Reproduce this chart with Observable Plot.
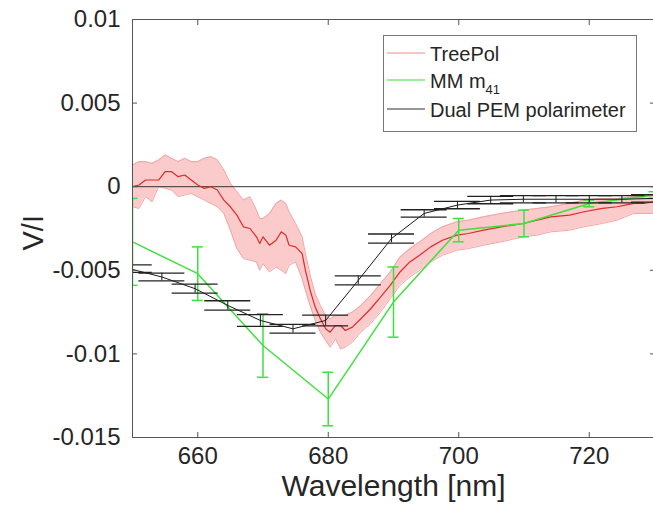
<!DOCTYPE html>
<html><head><meta charset="utf-8">
<script src="https://cdn.jsdelivr.net/npm/d3@7"></script>
<script src="https://cdn.jsdelivr.net/npm/@observablehq/plot@0.6"></script>
<style>html,body{margin:0;padding:0;background:#fff;} svg{display:block}</style>
</head><body><div id="chart"></div>
<script>
// TreePol (mean with uncertainty band)
const treeWl   = [650,651,652,653,654,655,656,657,658,659,660,661,662,663,664,665,666,667,668,669,669.5,670,671,672,672.8,673.5,674,675,676,676.5,677.3,678,678.8,679.6,680.3,681.1,681.9,682.6,683.7,685,686.5,688,689.5,691,692.5,694,695.7,697.5,699.7,701.5,703.8,706.5,709.9,712,714.1,717,719.2,722,724.3,726.8,728.4,730];
const treeMean = [0.0000,0.0001,0.0004,0.0004,0.0004,0.0009,0.0009,0.0006,0.0007,0.0004,0.0001,-0.0001,0.0000,-0.0002,-0.0008,-0.0012,-0.0017,-0.0024,-0.0025,-0.0030,-0.0034,-0.0030,-0.0035,-0.0032,-0.0027,-0.0029,-0.0035,-0.0036,-0.0040,-0.0050,-0.0063,-0.0072,-0.0079,-0.0085,-0.0087,-0.0083,-0.0083,-0.0086,-0.0084,-0.0079,-0.0073,-0.0066,-0.0059,-0.0051,-0.0045,-0.0041,-0.0036,-0.0032,-0.0029,-0.0028,-0.0026,-0.0024,-0.0022,-0.0020,-0.0018,-0.0017,-0.0015,-0.0013,-0.0012,-0.0010,-0.0010,-0.0009];
const treeLow  = [-0.0012,-0.0013,-0.0006,-0.0009,0.0000,-0.0001,-0.0002,-0.0006,-0.0005,-0.0004,-0.0006,-0.0008,-0.0010,-0.0012,-0.0016,-0.0026,-0.0037,-0.0043,-0.0044,-0.0045,-0.0050,-0.0046,-0.0051,-0.0048,-0.0050,-0.0052,-0.0047,-0.0045,-0.0055,-0.0062,-0.0072,-0.0080,-0.0087,-0.0092,-0.0096,-0.0091,-0.0097,-0.0096,-0.0093,-0.0087,-0.0082,-0.0075,-0.0067,-0.0059,-0.0054,-0.0050,-0.0045,-0.0041,-0.0038,-0.0037,-0.0035,-0.0033,-0.0030,-0.0029,-0.0027,-0.0026,-0.0024,-0.0022,-0.0020,-0.0016,-0.0016,-0.0016];
const treeHigh = [0.0013,0.0015,0.0015,0.0014,0.0016,0.0019,0.0017,0.0015,0.0017,0.0015,0.0015,0.0017,0.0018,0.0016,0.0010,0.0002,-0.0003,-0.0008,-0.0006,-0.0014,-0.0019,-0.0019,-0.0016,-0.0010,-0.0008,-0.0010,-0.0015,-0.0022,-0.0030,-0.0040,-0.0054,-0.0064,-0.0071,-0.0077,-0.0079,-0.0077,-0.0077,-0.0077,-0.0075,-0.0071,-0.0065,-0.0058,-0.0051,-0.0042,-0.0037,-0.0033,-0.0028,-0.0024,-0.0021,-0.0020,-0.0018,-0.0016,-0.0014,-0.0013,-0.0012,-0.0010,-0.0008,-0.0007,-0.0007,-0.0006,-0.0005,-0.0005];

// MM m41
const mmWl  = [650,660,670,680,690,700,710,720,730];
const mmVal = [-0.0033,-0.0052,-0.0095,-0.0127,-0.0069,-0.0026,-0.0022,-0.0010,-0.0005];
const mmErr = [0.0026,0.0016,0.0019,0.0016,0.0021,0.0007,0.0008,0.0002,0.0002];

// Dual PEM polarimeter
const pemWl  = [649.5,654.5,659.6,664.6,669.6,674.6,679.6,684.6,689.7,694.7,699.8,704.9,709.9,714.9,720.0,725.0,730.0];
const pemVal = [-0.0049,-0.0054,-0.0061,-0.0071,-0.0080,-0.0085,-0.0080,-0.0056,-0.0031,-0.0016,-0.0011,-0.0008,-0.00075,-0.00075,-0.00075,-0.00075,-0.0007];
const pemErr = [0.00022,0.00023,0.00027,0.00028,0.00035,0.00026,0.00032,0.00027,0.00027,0.00022,0.00022,0.00022,0.00022,0.00022,0.00022,0.00022,0.00022];

const xTicks = [660,680,700,720];
const yTicks = [-0.015,-0.01,-0.005,0,0.005,0.01];
const yTickLabels = ["-0.015","-0.01","-0.005","0","0.005","0.01"];
const seriesNames = ["TreePol","MM m","Dual PEM polarimeter"];
const mmSub = "41";
const xLabel = "Wavelength [nm]";
const yLabel = "V/I";

const tree = treeWl.map((x,i)=>({x, m:treeMean[i], lo:treeLow[i], hi:treeHigh[i]}));
const mm = mmWl.map((x,i)=>({x, v:mmVal[i], e:mmErr[i]}));
const pem = pemWl.map((x,i)=>({x, v:pemVal[i], e:pemErr[i]}));

const font = "'Liberation Sans', Arial, Helvetica, sans-serif";
const red = "#e02a2a", bandFill = "#fbcaca", bandEdge = "#f4a3a3";
const green = "#3fe03f", black = "#1a1a1a", axisCol = "#555", textCol = "#262626";

const plot = Plot.plot({
  width: 653, height: 520,
  marginLeft: 132, marginRight: -1, marginTop: 19, marginBottom: 83,
  style: {fontFamily: font, background: "#fff", overflow: "visible"},
  x: {domain: [650, 730]},
  y: {domain: [-0.015, 0.01]},
  marks: [
    Plot.areaY(tree, {x: "x", y1: "lo", y2: "hi", fill: bandFill, clip: true}),
    Plot.line(tree, {x: "x", y: "lo", stroke: bandEdge, strokeWidth: 1, clip: true}),
    Plot.line(tree, {x: "x", y: "hi", stroke: bandEdge, strokeWidth: 1, clip: true}),
    Plot.ruleY([0], {stroke: "#333", strokeWidth: 1}),
    Plot.line(tree, {x: "x", y: "m", stroke: red, strokeWidth: 1.2, clip: true}),
    // MM m41
    Plot.line(mm, {x: "x", y: "v", stroke: green, strokeWidth: 1.5, clip: true}),
    Plot.ruleX(mm, {x: "x", y1: d => d.v - d.e, y2: d => d.v + d.e, stroke: green, strokeWidth: 1.5, clip: true}),
    Plot.ruleY(mm, {y: d => d.v - d.e, x1: "x", x2: "x", insetLeft: -5.5, insetRight: -5.5, stroke: green, strokeWidth: 1.5, clip: true}),
    Plot.ruleY(mm, {y: d => d.v + d.e, x1: "x", x2: "x", insetLeft: -5.5, insetRight: -5.5, stroke: green, strokeWidth: 1.5, clip: true}),
    // Dual PEM
    Plot.line(pem, {x: "x", y: "v", stroke: black, strokeWidth: 1, clip: true}),
    Plot.ruleX(pem, {x: "x", y1: d => d.v - d.e, y2: d => d.v + d.e, stroke: black, strokeWidth: 1, clip: true}),
    Plot.ruleY(pem, {y: d => d.v - d.e, x1: "x", x2: "x", insetLeft: -23, insetRight: -23, stroke: "#222", strokeWidth: 1.3, clip: true}),
    Plot.ruleY(pem, {y: d => d.v + d.e, x1: "x", x2: "x", insetLeft: -23, insetRight: -23, stroke: "#222", strokeWidth: 1.3, clip: true}),
    // axes
    Plot.axisX({anchor: "bottom", ticks: xTicks, tickSize: -5, tickPadding: 14, fontSize: 24, stroke: axisCol, fill: textCol, label: null}),
    Plot.axisX({anchor: "top", ticks: xTicks, tickSize: -5, tickFormat: () => "", stroke: axisCol, label: null}),
    Plot.axisY({anchor: "left", ticks: yTicks, tickSize: -5, tickPadding: 17, fontSize: 24, stroke: axisCol, fill: textCol,
      tickFormat: d => yTickLabels[yTicks.indexOf(d)], label: null}),
    Plot.axisY({anchor: "right", ticks: yTicks, tickSize: -5, tickFormat: () => "", stroke: axisCol, label: null}),
    Plot.frame({stroke: axisCol, strokeWidth: 1}),
    Plot.text([yLabel], {frameAnchor: "left", text: d => d, rotate: -90, dx: -99, dy: 22, fontSize: 29, fill: textCol}),
    Plot.text([xLabel], {frameAnchor: "bottom", text: d => d, dy: 58, fontSize: 30, fill: textCol})
  ]
});
document.getElementById("chart").appendChild(plot);

// legend inside the axes (top-right)
const svg = d3.select(plot);
const lg = svg.append("g").attr("font-family", font).attr("font-size", 20)
  .attr("fill", textCol).attr("text-anchor", "start");
lg.append("rect").attr("x", 383.5).attr("y", 35.5).attr("width", 253).attr("height", 96)
  .attr("fill", "#fff").attr("stroke", "#777").attr("stroke-width", 1);
const legColors = ["#f08a8a", green, "#333"];
const legY = [53, 80, 109];
seriesNames.forEach((name, i) => {
  lg.append("line").attr("x1", 387).attr("x2", 425).attr("y1", legY[i]).attr("y2", legY[i])
    .attr("stroke", legColors[i]).attr("stroke-width", 1.2);
  const t = lg.append("text").attr("x", 430).attr("y", legY[i] + 8)
    .attr("text-anchor", "start").text(name);
  if (i === 1) t.append("tspan").attr("font-size", 13).attr("dy", 6).text(mmSub);
});
</script>
</body></html>
